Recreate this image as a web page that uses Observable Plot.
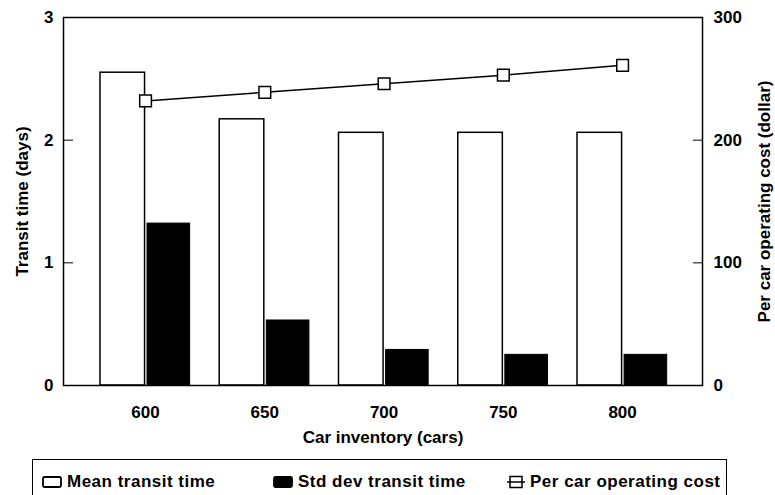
<!DOCTYPE html>
<html>
<head>
<meta charset="utf-8">
<script src="https://cdn.jsdelivr.net/npm/d3@7"></script>
<script src="https://cdn.jsdelivr.net/npm/@observablehq/plot@0.6"></script>
<style>
  html, body { margin: 0; padding: 0; background: #fff; }
  body { width: 775px; height: 495px; overflow: hidden; position: relative; font-family: "Liberation Sans", Arial, sans-serif; }
  #chart { position: absolute; left: 0; top: 0; }
  #legend { position: absolute; left: 32px; top: 459px; width: 695px; height: 60px; border: 1.5px solid #000; box-sizing: border-box; font-size: 17px; font-weight: bold; letter-spacing: 0.5px; color: #000; background: #fff; }
  .item { position: absolute; top: 12px; display: flex; align-items: center; gap: 5px; white-space: nowrap; }
</style>
</head>
<body>
<div id="chart"></div>
<div id="legend"></div>
<script>
const inventory = [600, 650, 700, 750, 800];
const meanTransit = [2.55, 2.17, 2.06, 2.06, 2.06];
const stdTransit = [1.32, 0.53, 0.29, 0.25, 0.25];
const operatingCost = [232, 239, 246, 253, 261];
const yTicks = [0, 1, 2, 3];
const costTicks = [0, 100, 200, 300];
const legendLabels = ["Mean transit time", "Std dev transit time", "Per car operating cost"];

const rows = inventory.map((inv, i) => ({inv, mean: meanTransit[i], std: stdTransit[i], cost: operatingCost[i]}));
const half = 18.9; // half group width in inventory units
const costScale = 100; // dollars per day unit on the shared axis

const font = "Liberation Sans, Arial, sans-serif";
const chart = Plot.plot({
  width: 775,
  height: 455,
  marginLeft: 63,
  marginRight: 73,
  marginTop: 17,
  marginBottom: 70,
  style: {fontFamily: font, fontSize: "17px", fontWeight: "bold", color: "#000", background: "#fff", overflow: "visible"},
  x: {domain: [565.6, 833.5]},
  y: {domain: [0, 3]},
  marks: [
    Plot.rectY(rows, {x1: d => d.inv - half, x2: d => d.inv, y1: 0, y2: "mean", fill: "#fff", stroke: "#000", strokeWidth: 1.5, insetRight: 0.5}),
    Plot.rectY(rows, {x1: d => d.inv, x2: d => d.inv + half - 0.2, y1: 0, y2: "std", fill: "#000", stroke: "#000", strokeWidth: 1, insetLeft: 2}),
    Plot.frame({stroke: "#000", strokeWidth: 1.5}),
    Plot.axisX(inventory, {tickSize: 0, tickPadding: 20, tickFormat: d => d, label: "Car inventory (cars)", labelArrow: "none", labelAnchor: "center", labelOffset: 57, fontSize: 17}),
    Plot.axisY(yTicks, {anchor: "left", tickSize: -10, tickPadding: 20, tickFormat: d => d, label: "Transit time (days)", labelArrow: "none", labelAnchor: "center", labelOffset: 48, fontSize: 17}),
    Plot.axisY(costTicks.map(c => c / costScale), {anchor: "right", tickSize: -10, tickPadding: 21, tickFormat: d => Math.round(d * costScale), label: "Per car operating cost (dollar)", labelArrow: "none", labelAnchor: "center", labelOffset: 67, fontSize: 17}),
    Plot.line(rows, {x: "inv", y: d => d.cost / costScale, stroke: "#000", strokeWidth: 1.5}),
    Plot.dot(rows, {x: "inv", y: d => d.cost / costScale, symbol: "square", r: 6.6, fill: "#fff", stroke: "#000", strokeWidth: 1.5})
  ]
});
document.getElementById("chart").appendChild(chart);

const icons = [
  '<svg width="20" height="14"><rect x="1" y="2" width="18" height="10" rx="1.5" fill="#fff" stroke="#000" stroke-width="1.8"/></svg>',
  '<svg width="20" height="14"><rect x="1" y="2" width="18" height="10" rx="1.5" fill="#000" stroke="#000" stroke-width="1.8"/></svg>',
  '<svg width="18" height="14"><rect x="3" y="1.5" width="12" height="11" fill="#fff" stroke="#000" stroke-width="1.5"/><line x1="0" x2="18" y1="7" y2="7" stroke="#000" stroke-width="1.5"/></svg>'
];
const lefts = [9, 240, 474];
const legend = document.getElementById("legend");
legendLabels.forEach((t, i) => {
  const el = document.createElement("div");
  el.className = "item";
  el.style.left = lefts[i] + "px";
  el.innerHTML = icons[i] + "<span>" + t + "</span>";
  legend.appendChild(el);
});
</script>
</body>
</html>
